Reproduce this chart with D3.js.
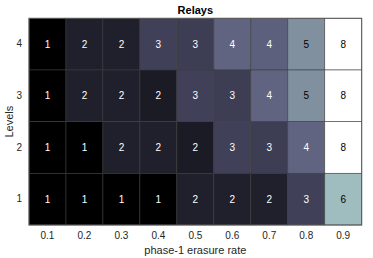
<!DOCTYPE html>
<html>
<head>
<meta charset="utf-8">
<script src="https://cdn.jsdelivr.net/npm/d3@7"></script>
<style>
    body { margin: 0; background: #fff; }
    text { font-family: "Liberation Sans", Arial, sans-serif; }
</style>
</head>
<body>
<div id="chart"></div>
<script>
// x categories (phase-1 erasure rate) and y categories (levels, top to bottom)
const rates = ["0.1", "0.2", "0.3", "0.4", "0.5", "0.6", "0.7", "0.8", "0.9"];
const levels = ["4", "3", "2", "1"];

const level4 = [1, 2, 2, 3, 2.9, 4, 3.9, 5, 8];
const level3 = [1, 2, 2, 1.85, 3, 2.9, 4, 5, 8];
const level2 = [1, 1, 2, 2, 1.85, 3, 2.9, 4, 8];
const level1 = [1, 1, 1, 1, 2, 2, 2, 3, 6];
const rows = [level4, level3, level2, level1];

class HeatMap {
    constructor(element) {
        this.ele = d3.select(element);
        this.margin = {top: 18.3, right: 11.3, bottom: 33, left: 29};
        this.initParams();
        this.setCells();
        this.setAxes();
    }

    initParams() {
        this.svg = this.ele.append("svg")
            .attr("width", 373)
            .attr("height", 258);
        this.width = 373 - this.margin.left - this.margin.right;
        this.height = 258 - this.margin.top - this.margin.bottom;
        this.x = d3.scaleBand().domain(rates).range([this.margin.left, this.margin.left + this.width]);
        this.y = d3.scaleBand().domain(levels).range([this.margin.top, this.margin.top + this.height]);
        let allVals = rows.flat();
        this.t = d3.scaleLinear().domain(d3.extent(allVals)).range([0, 1]);
    }

    // matlab bone colormap: (7*gray + fliplr(hot)) / 8
    bone(t) {
        let hr = Math.min(1, t / 0.375);
        let hg = Math.max(0, Math.min(1, (t - 0.375) / 0.375));
        let hb = Math.max(0, Math.min(1, (t - 0.75) / 0.25));
        let r = (7 * t + hb) / 8, g = (7 * t + hg) / 8, b = (7 * t + hr) / 8;
        return [r, g, b];
    }

    setCells() {
        let cells = [];
        rows.forEach((row, i) => {
            row.forEach((v, j) => {
                cells.push({level: levels[i], rate: rates[j], value: v});
            });
        });
        let g = this.svg.append("g");
        let cell = g.selectAll("g.cell")
            .data(cells)
            .enter()
            .append("g")
            .attr("class", "cell");

        cell.append("rect")
            .attr("x", d => this.x(d.rate))
            .attr("y", d => this.y(d.level))
            .attr("width", this.x.bandwidth())
            .attr("height", this.y.bandwidth())
            .attr("fill", d => {
                let c = this.bone(this.t(d.value));
                return d3.rgb(c[0] * 255, c[1] * 255, c[2] * 255);
            })
            .attr("stroke", "#3c3c3c")
            .attr("stroke-opacity", 0.8)
            .attr("stroke-width", 0.7);

        cell.append("text")
            .text(d => d3.format(".0f")(d.value))
            .attr("x", d => this.x(d.rate) + this.x.bandwidth() / 2)
            .attr("y", d => this.y(d.level) + this.y.bandwidth() / 2 + 3.6)
            .attr("text-anchor", "middle")
            .style("font-size", "10px")
            .attr("fill", d => {
                let c = this.bone(this.t(d.value));
                let lum = 0.299 * c[0] + 0.587 * c[1] + 0.114 * c[2];
                return lum > 0.5 ? "#000" : "#fff";
            });

        this.svg.append("rect")
            .attr("x", this.margin.left)
            .attr("y", this.margin.top)
            .attr("width", this.width)
            .attr("height", this.height)
            .attr("fill", "none")
            .attr("stroke", "#5a5a5a")
            .attr("stroke-width", 1);
    }

    setAxes() {
        let bottom = this.margin.top + this.height;
        let xAxis = this.svg.append("g")
            .attr("transform", "translate(0," + bottom + ")")
            .call(d3.axisBottom(this.x).tickSize(0).tickPadding(7));
        xAxis.select(".domain").remove();
        xAxis.selectAll("text").style("font-size", "10px").attr("fill", "#262626");

        let yAxis = this.svg.append("g")
            .attr("transform", "translate(" + this.margin.left + ",0)")
            .call(d3.axisLeft(this.y).tickSize(0).tickPadding(7));
        yAxis.select(".domain").remove();
        yAxis.selectAll("text").style("font-size", "10px").attr("fill", "#262626");

        this.svg.append("text")
            .text("Relays")
            .attr("x", this.margin.left + this.width / 2)
            .attr("y", 14)
            .attr("text-anchor", "middle")
            .style("font-size", "11px")
            .style("font-weight", "bold")
            .attr("fill", "#000");

        this.svg.append("text")
            .text("phase-1 erasure rate")
            .attr("x", this.margin.left + this.width / 2)
            .attr("y", 254)
            .attr("text-anchor", "middle")
            .style("font-size", "11px")
            .attr("fill", "#262626");

        this.svg.append("text")
            .text("Levels")
            .attr("transform", "translate(13," + (this.margin.top + this.height / 2) + ") rotate(-90)")
            .attr("text-anchor", "middle")
            .style("font-size", "11px")
            .attr("fill", "#262626");
    }
}

new HeatMap("#chart");
</script>
</body>
</html>
